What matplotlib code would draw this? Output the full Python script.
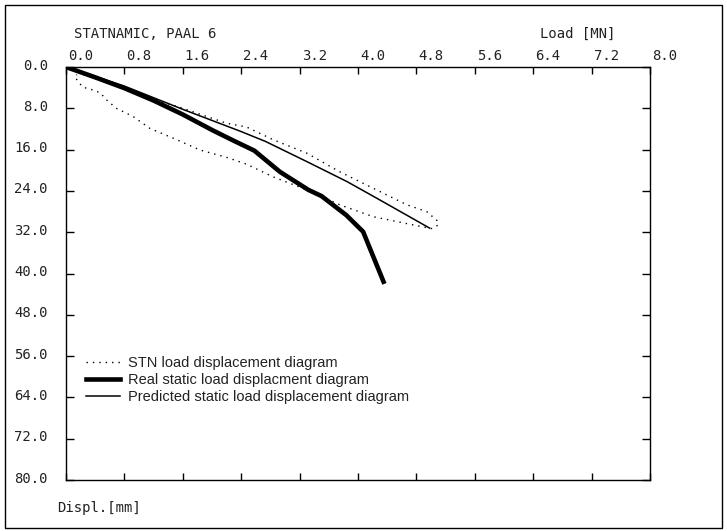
import matplotlib
matplotlib.use("Agg")
import matplotlib.pyplot as plt
import matplotlib.patches as patches
import matplotlib.transforms as mtransforms

# ---- data (Load [MN], Displacement [mm]) ----
load_real = [0, 0.4, 0.8, 1.2, 1.6, 2.0, 2.3, 2.58, 2.93, 3.32, 3.5, 3.84, 4.07, 4.35]
disp_real = [0, 2.0, 4.1, 6.5, 9.2, 12.2, 14.3, 16.2, 20.3, 23.8, 25.0, 28.7, 31.9, 41.6]

load_pred = [0, 0.8, 1.6, 2.38, 2.73, 3.31, 3.85, 4.28, 4.98]
disp_pred = [0, 3.7, 8.2, 12.4, 14.4, 18.4, 22.2, 25.6, 31.2]

load_stn = [0, 0.3, 0.7, 1.15, 1.6, 2.2, 2.47, 2.84, 3.30, 3.75, 4.21, 4.67, 4.94,
            5.08, 5.10, 5.01, 4.76, 4.21, 3.75, 3.30, 2.84, 2.47, 2.2, 1.84, 1.52,
            1.15, 0.92, 0.69, 0.55, 0.47, 0.38, 0.23, 0.2, 0.14, 0.12, 0.15]
disp_stn = [0, 1.8, 3.6, 6.0, 8.0, 10.9, 11.6, 14.1, 16.7, 20.3, 23.5, 26.7, 28.0,
            29.7, 30.6, 31.3, 30.6, 29.0, 26.7, 23.8, 21.3, 18.8, 17.5, 16.1, 14.1,
            11.9, 9.6, 8.0, 6.3, 5.0, 4.5, 3.9, 3.4, 2.3, 1.8, 1.5]

x_ticks = [0.0, 0.8, 1.6, 2.4, 3.2, 4.0, 4.8, 5.6, 6.4, 7.2, 8.0]
y_ticks = [0.0, 8.0, 16.0, 24.0, 32.0, 40.0, 48.0, 56.0, 64.0, 72.0, 80.0]

labels = ["STN load displacement diagram",
          "Real static load displacment diagram",
          "Predicted static load displacement diagram"]

W, H = 727, 531
mono = ["DejaVu Sans Mono"]
sans = ["Liberation Sans", "DejaVu Sans"]
tc = "#222222"
fs = 10

fig = plt.figure(figsize=(W / 100, H / 100), dpi=100)
ax = fig.add_axes([66 / W, 1 - 480 / H, 584 / W, 413 / H])

# outer frame
fig.patches.append(patches.Rectangle((5 / W, 1 - 528 / H), 717 / W, 523 / H,
                                     transform=fig.transFigure, fill=False,
                                     lw=1.0, ec="black"))

ax.plot(load_stn, disp_stn, color="black", lw=1.0, ls=(0, (1, 3.6)), label=labels[0])
ax.plot(load_real, disp_real, color="black", lw=3.3, solid_joinstyle="round", label=labels[1])
ax.plot(load_pred, disp_pred, color="black", lw=1.1, label=labels[2])

ax.set_xlim(0, 8)
ax.set_ylim(80, 0)

ax.xaxis.tick_top()
ax.set_xticks(x_ticks)
ax.set_xticklabels([f"{v:.1f}" for v in x_ticks], fontfamily=mono, fontsize=fs, color=tc)
ax.set_yticks(y_ticks)
ax.set_yticklabels([f"{v:.1f}" for v in y_ticks], fontfamily=mono, fontsize=fs, color=tc)
ax.tick_params(axis="x", which="both", top=True, bottom=True, direction="in",
               length=5, width=1, pad=3)
ax.tick_params(axis="y", which="both", left=True, right=True, direction="in",
               length=6, width=1, pad=13)
for lab in ax.get_xticklabels():
    lab.set_horizontalalignment("left")
    lab.set_transform(lab.get_transform() + mtransforms.ScaledTranslation(2 / 100, 0, fig.dpi_scale_trans))
for lab in ax.get_yticklabels():
    lab.set_transform(lab.get_transform() + mtransforms.ScaledTranslation(0, 3 / 100, fig.dpi_scale_trans))

for s in ax.spines.values():
    s.set_linewidth(1.0)

fig.text(74 / W, 1 - 34 / H, "STATNAMIC, PAAL 6", fontfamily=mono, fontsize=fs,
         color=tc, ha="left", va="center")
fig.text(540 / W, 1 - 34 / H, "Load [MN]", fontfamily=mono, fontsize=fs,
         color=tc, ha="left", va="center")
fig.text(57 / W, 1 - 508 / H, "Displ.[mm]", fontfamily=mono, fontsize=fs,
         color=tc, ha="left", va="center")

leg = ax.legend(loc="upper left", bbox_to_anchor=(20 / 584, (480 - 356) / 413),
                frameon=False, prop={"family": sans, "size": 10.5},
                handlelength=2.3, handletextpad=0.6, borderpad=0, borderaxespad=0,
                labelspacing=0.2)
for t in leg.get_texts():
    t.set_color(tc)

fig.savefig("out.png", dpi=100)
